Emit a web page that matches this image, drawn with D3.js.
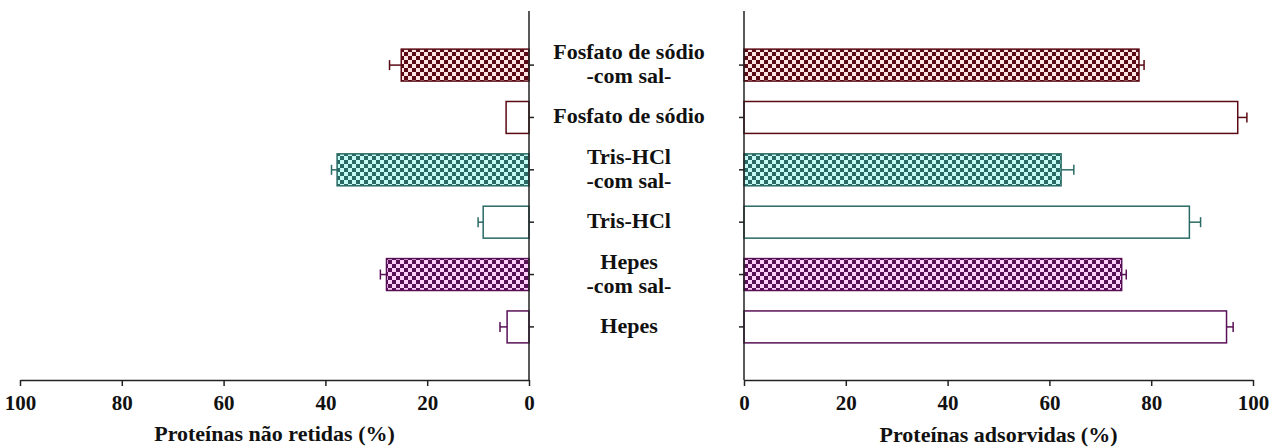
<!DOCTYPE html>
<html>
<head>
<meta charset="utf-8">
<title>Proteínas não retidas / adsorvidas</title>
<script src="https://d3js.org/d3.v7.min.js"></script>
<style>
  body { margin: 0; background: #fff; }
</style>
</head>
<body>
<script>
// categories, top to bottom
var categories = ["Fosfato de sódio -com sal-", "Fosfato de sódio", "Tris-HCl -com sal-", "Tris-HCl", "Hepes -com sal-", "Hepes"];
var labelLines = [["Fosfato de sódio", "-com sal-"], ["Fosfato de sódio"], ["Tris-HCl", "-com sal-"], ["Tris-HCl"], ["Hepes", "-com sal-"], ["Hepes"]];
var buffer = ["fosfato", "fosfato", "tris", "tris", "hepes", "hepes"];
var comSal = [true, false, true, false, true, false];

// Proteínas não retidas (%)
var naoRetidas = [25.1, 4.5, 37.7, 9.0, 28.0, 4.3];
var naoRetidasErr = [2.3, 0, 1.1, 1.0, 1.2, 1.4];
// Proteínas adsorvidas (%)
var adsorvidas = [77.6, 97.0, 62.3, 87.5, 74.2, 94.8];
var adsorvidasErr = [1.0, 1.8, 2.5, 2.2, 0.9, 1.3];

var xTicks = [0, 20, 40, 60, 80, 100];

var FONT = "'Liberation Serif', Tinos, 'Times New Roman', 'DejaVu Serif', serif";

var colors = {
  fosfato: {dark: "#5a0a14", light: "#ffe4e4"},
  tris: {dark: "#2a6a65", light: "#c4faf3"},
  hepes: {dark: "#581157", light: "#ffd0fa"}
};

var W = 1280, H = 447;
var svg = d3.select("body").append("svg")
  .attr("width", W)
  .attr("height", H)
  .attr("font-family", FONT)
  .attr("font-weight", "bold");

// checker patterns
var defs = svg.append("defs");
Object.keys(colors).forEach(function(k) {
  var p = defs.append("pattern")
    .attr("id", "chk-" + k)
    .attr("patternUnits", "userSpaceOnUse")
    .attr("width", 8).attr("height", 8);
  p.append("rect").attr("width", 8).attr("height", 8).attr("fill", colors[k].light);
  p.append("rect").attr("width", 4).attr("height", 4).attr("fill", colors[k].dark);
  p.append("rect").attr("x", 4).attr("y", 4).attr("width", 4).attr("height", 4).attr("fill", colors[k].dark);
});

var axisTop = 11, axisBottom = 380;

var y = d3.scaleBand()
  .domain(categories)
  .range([13, 379])
  .paddingInner(0.39)
  .paddingOuter(0.69);

var xLeft = d3.scaleLinear().domain([100, 0]).range([20, 529]);
var xRight = d3.scaleLinear().domain([0, 100]).range([744, 1253]);

var data = categories.map(function(c, i) {
  return {cat: c, lines: labelLines[i], buf: buffer[i], sal: comSal[i],
    left: naoRetidas[i], leftErr: naoRetidasErr[i],
    right: adsorvidas[i], rightErr: adsorvidasErr[i]};
});

function fillOf(d) { return d.sal ? "url(#chk-" + d.buf + ")" : "#fff"; }

// left bars (grow to the left from 0)
var gl = svg.append("g");
gl.selectAll("rect")
  .data(data)
  .enter().append("rect")
  .attr("x", function(d) { return xLeft(d.left); })
  .attr("y", function(d) { return y(d.cat); })
  .attr("width", function(d) { return xLeft(0) - xLeft(d.left); })
  .attr("height", y.bandwidth())
  .attr("fill", fillOf)
  .attr("stroke", function(d) { return colors[d.buf].dark; })
  .attr("stroke-width", 1.5);

// right bars
var gr = svg.append("g");
gr.selectAll("rect")
  .data(data)
  .enter().append("rect")
  .attr("x", xRight(0))
  .attr("y", function(d) { return y(d.cat); })
  .attr("width", function(d) { return xRight(d.right) - xRight(0); })
  .attr("height", y.bandwidth())
  .attr("fill", fillOf)
  .attr("stroke", function(d) { return colors[d.buf].dark; })
  .attr("stroke-width", 1.5);

// error bars
function errBars(g, xs, val, err) {
  var e = g.selectAll("g.err")
    .data(data.filter(function(d) { return err(d) > 0; }))
    .enter().append("g")
    .attr("class", "err")
    .attr("stroke", function(d) { return colors[d.buf].dark; })
    .attr("stroke-width", 1.5);
  e.append("line")
    .attr("x1", function(d) { return xs(val(d)); })
    .attr("x2", function(d) { return xs(val(d) + err(d)); })
    .attr("y1", function(d) { return y(d.cat) + y.bandwidth() / 2; })
    .attr("y2", function(d) { return y(d.cat) + y.bandwidth() / 2; });
  e.append("line")
    .attr("x1", function(d) { return xs(val(d) + err(d)); })
    .attr("x2", function(d) { return xs(val(d) + err(d)); })
    .attr("y1", function(d) { return y(d.cat) + y.bandwidth() / 2 - 5; })
    .attr("y2", function(d) { return y(d.cat) + y.bandwidth() / 2 + 5; });
}
errBars(gl, xLeft, function(d) { return d.left; }, function(d) { return d.leftErr; });
errBars(gr, xRight, function(d) { return d.right; }, function(d) { return d.rightErr; });

// vertical axes
function styleAxis(g) {
  g.selectAll("path, line").attr("stroke", "#222").attr("stroke-width", 1.5);
  g.select(".domain").remove();
}
var yl = svg.append("g")
  .attr("transform", "translate(" + xLeft(0) + ",0)")
  .call(d3.axisRight(y).tickSize(5).tickFormat(""));
styleAxis(yl);
svg.append("line").attr("x1", xLeft(0)).attr("x2", xLeft(0))
  .attr("y1", axisTop).attr("y2", axisBottom)
  .attr("stroke", "#222").attr("stroke-width", 1.5);

var yr = svg.append("g")
  .attr("transform", "translate(" + xRight(0) + ",0)")
  .call(d3.axisLeft(y).tickSize(5).tickFormat(""));
styleAxis(yr);
svg.append("line").attr("x1", xRight(0)).attr("x2", xRight(0))
  .attr("y1", axisTop).attr("y2", axisBottom)
  .attr("stroke", "#222").attr("stroke-width", 1.5);

// bottom axes
function bottomAxis(xs) {
  var g = svg.append("g")
    .attr("transform", "translate(0," + axisBottom + ")")
    .call(d3.axisBottom(xs).tickValues(xTicks).tickSize(6).tickSizeOuter(0).tickPadding(9));
  g.attr("font-family", FONT).attr("font-size", 21).attr("font-weight", "bold");
  g.selectAll("path, line").attr("stroke", "#222").attr("stroke-width", 1.5);
  g.selectAll("text").attr("fill", "#111");
  return g;
}
bottomAxis(xLeft);
bottomAxis(xRight);

svg.append("text")
  .attr("x", (xLeft(100) + xLeft(0)) / 2)
  .attr("y", 441)
  .attr("text-anchor", "middle")
  .attr("font-size", 22)
  .attr("fill", "#111")
  .text("Proteínas não retidas (%)");
svg.append("text")
  .attr("x", (xRight(0) + xRight(100)) / 2)
  .attr("y", 442)
  .attr("text-anchor", "middle")
  .attr("font-size", 22)
  .attr("fill", "#111")
  .text("Proteínas adsorvidas (%)");

// category labels between the panels
var labels = svg.selectAll("text.cat")
  .data(data)
  .enter().append("text")
  .attr("class", "cat")
  .attr("text-anchor", "middle")
  .attr("font-size", 22)
  .attr("fill", "#111");
labels.each(function(d) {
  var t = d3.select(this);
  var cy = y(d.cat) + y.bandwidth() / 2;
  var base = d.lines.length === 1 ? cy + 6 : cy - 6;
  d.lines.forEach(function(s, i) {
    t.append("tspan")
      .attr("x", 629)
      .attr("y", base + i * 24)
      .text(s);
  });
});
</script>
</body>
</html>
